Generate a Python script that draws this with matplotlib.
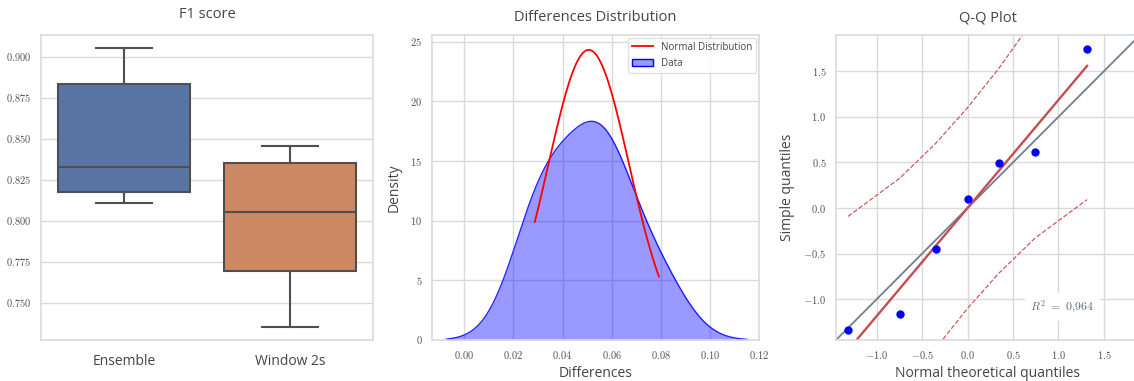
import numpy as np
import matplotlib
matplotlib.use("Agg")
import matplotlib.pyplot as plt
from matplotlib.lines import Line2D
from matplotlib.patches import Patch
from matplotlib.ticker import FuncFormatter, MultipleLocator
from statistics import NormalDist

# F1 score per fold
categories = ["Ensemble", "Window 2s"]
f1_ensemble = [0.8108, 0.8150, 0.8204, 0.8331, 0.8790, 0.8878, 0.9053]
f1_window = [0.7356, 0.7650, 0.7744, 0.8052, 0.8320, 0.8384, 0.8459]

# differences Ensemble - Window 2s
differences = [0.0287, 0.0317, 0.0434, 0.0523, 0.0588, 0.0607, 0.0793]
r2_label = "0,964"

box_colors = ["#5875a4", "#cc8963"]
line_gray = "#4f4f4f"
grid_col = "#dadada"
text_col = "#444444"

plt.rcParams["font.family"] = ["Open Sans", "DejaVu Sans"]
plt.rcParams["mathtext.fontset"] = "cm"

fig = plt.figure(figsize=(11.34, 3.81), dpi=100)
ax1 = fig.add_axes([41 / 1134, 41 / 381, 332 / 1134, 305 / 381])
ax2 = fig.add_axes([432 / 1134, 41 / 381, 327 / 1134, 305 / 381])
ax3 = fig.add_axes([836 / 1134, 41 / 381, 304 / 1134, 305 / 381])


def style(ax):
    for s in ax.spines.values():
        s.set_color(grid_col)
        s.set_linewidth(1.2)
    ax.tick_params(length=0, pad=7, labelsize=7.5, labelcolor="#505050")
    ax.grid(True, color=grid_col, lw=1)
    ax.set_axisbelow(True)


def mathfmt(fmt):
    return FuncFormatter(lambda v, p: "$" + format(v, fmt) + "$")


# --- F1 score boxplot
style(ax1)
ax1.grid(False, axis="x")
bp = ax1.boxplot([f1_ensemble, f1_window], positions=[0, 1], widths=0.8,
                 patch_artist=True, capwidths=0.34, showfliers=False,
                 medianprops=dict(color=line_gray, lw=1.5),
                 whiskerprops=dict(color=line_gray, lw=1.5),
                 capprops=dict(color=line_gray, lw=1.5),
                 boxprops=dict(edgecolor=line_gray, lw=1.5))
for patch, c in zip(bp["boxes"], box_colors):
    patch.set_facecolor(c)
ax1.set_xlim(-0.5, 1.5)
ax1.set_ylim(0.7274, 0.9134)
ax1.set_xticks([0, 1], categories)
ax1.yaxis.set_major_locator(MultipleLocator(0.025))
ax1.yaxis.set_major_formatter(mathfmt(".3f"))
ax1.tick_params(axis="x", labelsize=10, pad=10, labelcolor=text_col)
ax1.set_title("F1 score", fontsize=10.5, color=text_col, pad=12)

# --- Differences distribution
style(ax2)
d = np.array(differences)
mu, sd = d.mean(), d.std()
n = len(d)
bw = d.std(ddof=1) * n ** (-1 / 5)
grid = np.linspace(d.min() - 3 * bw, d.max() + 3 * bw, 200)
dens = np.exp(-0.5 * ((grid[:, None] - d[None, :]) / bw) ** 2).sum(1) / (n * bw * np.sqrt(2 * np.pi))
ax2.fill_between(grid, dens, color="blue", alpha=0.4, lw=0)
ax2.plot(grid, dens, color="blue", lw=1, alpha=0.85)
xs = np.linspace(d.min(), d.max(), 100)
ax2.plot(xs, np.exp(-0.5 * ((xs - mu) / sd) ** 2) / (sd * np.sqrt(2 * np.pi)), color="red", lw=1.3)
ax2.set_xlim(-0.0132, 0.1201)
ax2.set_ylim(0, 25.56)
ax2.xaxis.set_major_locator(MultipleLocator(0.02))
ax2.xaxis.set_major_formatter(mathfmt(".2f"))
ax2.yaxis.set_major_locator(MultipleLocator(5))
ax2.yaxis.set_major_formatter(mathfmt(".0f"))
ax2.set_xlabel("Differences", fontsize=10, color=text_col, labelpad=3)
ax2.set_ylabel("Density", fontsize=10, color=text_col, labelpad=6)
ax2.set_title("Differences Distribution", fontsize=10.5, color=text_col, pad=10)
handles = [Line2D([], [], color="red", lw=1.3),
           Patch(facecolor=(0, 0, 1, 0.4), edgecolor="blue")]
leg = ax2.legend(handles, ["Normal Distribution", "Data"], loc="upper right",
                 fontsize=7, frameon=True, borderaxespad=0.3, handlelength=2.2)
leg.get_frame().set_edgecolor(grid_col)
for t in leg.get_texts():
    t.set_color(text_col)

# --- Q-Q plot
style(ax3)
nd = NormalDist()
z = np.sort((d - mu) / sd)
m = (np.arange(1, n + 1) - 0.3175) / (n + 0.365)
m[-1] = 0.5 ** (1 / n)
m[0] = 1 - m[-1]
theor = np.array([nd.inv_cdf(p) for p in m])
slope, intercept = np.polyfit(theor, z, 1)
fit = slope * theor + intercept
P = (np.arange(1, n + 1) - 3 / 8) / (n + 1 - 2 * 3 / 8)
se = slope / np.array([nd.pdf(t) for t in theor]) * np.sqrt(P * (1 - P) / n)
crit = nd.inv_cdf(0.975)
lo, hi = -1.447, 1.897
ax3.plot([lo, hi], [lo, hi], color="slategrey", lw=1.3)
ax3.plot(theor, fit, color="#c44e52", lw=1.7)
ax3.plot(theor, fit + crit * se, color="#d0585b", lw=0.9, ls="--")
ax3.plot(theor, fit - crit * se, color="#d0585b", lw=0.9, ls="--")
ax3.plot(theor, z, "o", color="blue", ms=5)
ax3.set_xlim(lo, hi)
ax3.set_ylim(lo, hi)
ax3.xaxis.set_major_locator(MultipleLocator(0.5))
ax3.yaxis.set_major_locator(MultipleLocator(0.5))
ax3.xaxis.set_major_formatter(mathfmt(".1f"))
ax3.yaxis.set_major_formatter(mathfmt(".1f"))
ax3.text(0.69, -1.125, "$R^2\\ =\\ " + r2_label.replace(",", "{,}") + "$", fontsize=8.5,
         color="#5a6a82", bbox=dict(facecolor="white", edgecolor="none", pad=4))
ax3.set_xlabel("Normal theoretical quantiles", fontsize=10, color=text_col, labelpad=3)
ax3.set_ylabel("Simple quantiles", fontsize=10, color=text_col, labelpad=6)
ax3.set_title("Q-Q Plot", fontsize=10.5, color=text_col, pad=10)

fig.savefig("out.png", dpi=100)
